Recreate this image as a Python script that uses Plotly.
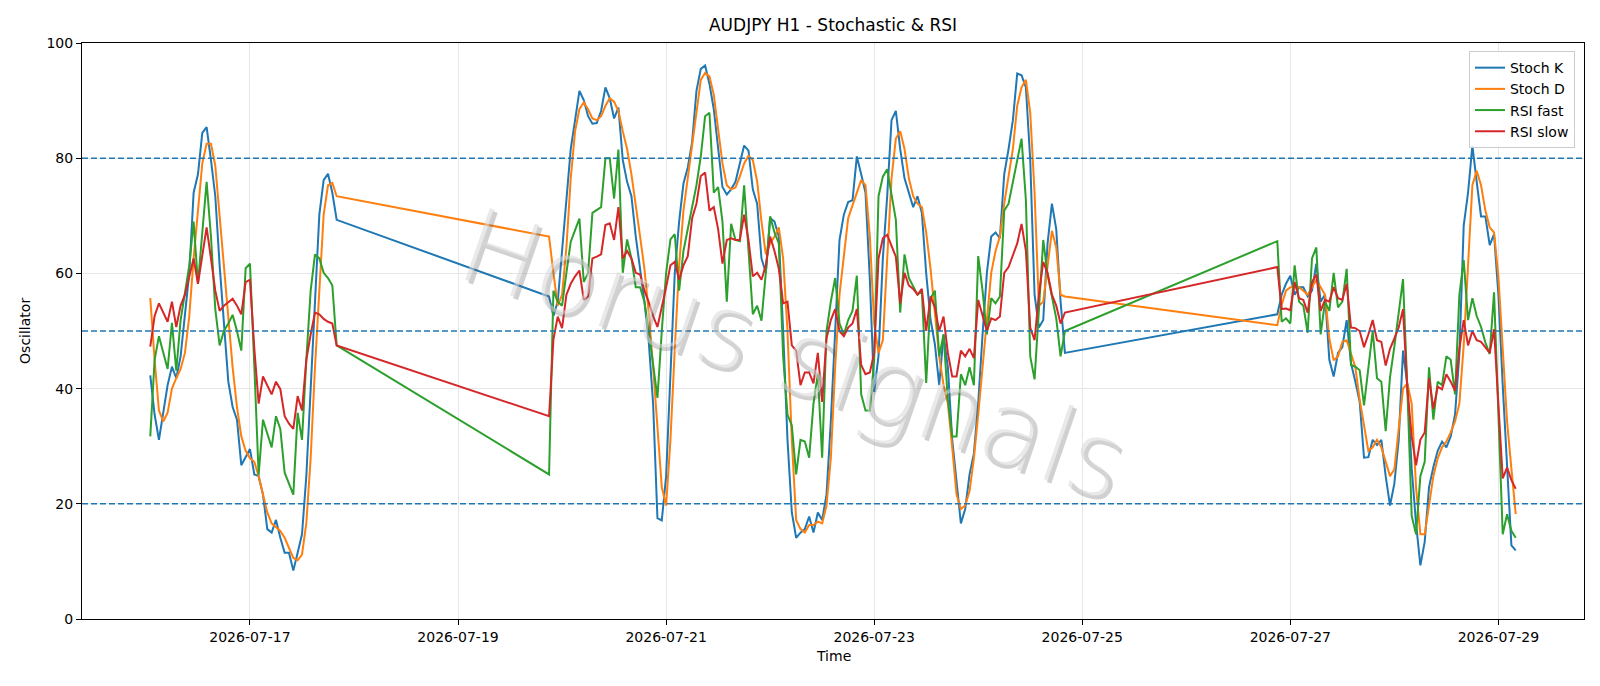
import pandas as pd
import plotly.graph_objects as go

# ---- time axis: three trading blocks of hourly bars (weekend gaps) ----
block_starts = ["2026-07-16 01:00", "2026-07-19 21:00", "2026-07-26 21:00"]
block_lengths = [44, 120, 56]

# ---- Stoch K ----
stoch_k_1 = [42.3, 35.5, 31.1, 35.5, 40.6, 43.8, 41.8, 45.6, 52.6, 60.1, 74.0, 77.2, 84.4, 85.4, 79.7,
             73.4, 61.4, 51.3, 41.2, 36.8, 34.6, 26.7, 28.0, 29.5, 25.1, 24.8, 21.6, 15.6, 15.0, 17.2,
             14.1, 11.5, 11.5, 8.4, 11.5, 14.7, 24.8, 40.6, 56.3, 70.2, 76.2, 77.3, 74.0, 69.3]
stoch_k_2 = [56.0, 52.6, 55.1, 64.2, 72.7, 81.6, 86.6, 91.7, 90.1, 87.3, 86.0, 86.1, 88.2, 92.3, 90.4,
             86.9, 88.8, 79.7, 75.9, 73.4, 66.4, 60.8, 55.1, 48.1, 37.4, 17.5, 17.1, 24.8, 43.7, 60.1,
             69.0, 75.6, 78.4, 82.8, 91.7, 95.5, 96.1, 92.9, 88.5, 81.6, 75.0, 73.7,
             74.6, 75.9, 79.1, 82.2, 81.3, 74.6, 72.1, 62.6, 60.1, 69.6, 69.0, 66.4, 50.0, 31.1, 18.5,
             14.1, 15.0, 15.6, 17.8, 15.0, 18.5, 17.2, 21.6, 34.3, 50.0, 65.8, 70.2, 72.4, 72.7, 80.3,
             77.2, 74.0, 58.9, 39.4, 45.7, 62.6, 73.4, 86.6, 88.2, 81.6, 76.5, 74.0, 71.5, 73.4,
             70.5, 60.0, 52.0, 47.7, 40.6, 49.4, 43.7, 31.1, 23.5, 16.6, 19.1, 25.1, 28.7, 37.5, 49.4,
             60.1, 66.4, 67.1, 66.1, 77.2, 81.6, 86.6, 94.7, 94.4, 92.3, 79.7, 56.3, 50.6, 51.9, 65.2,
             72.1, 67.7, 55.1, 46.2]
stoch_k_3 = [52.9, 56.3, 58.2, 59.6, 56.3, 57.6, 57.6, 56.0, 57.0, 61.7, 55.1, 56.3, 45.0, 42.1, 46.2,
             47.2, 51.9, 44.4, 41.2, 37.7, 28.0, 28.1, 31.1, 30.2, 31.1, 24.8, 19.7, 23.5, 31.1, 46.6,
             40.6, 26.1, 16.6, 9.3, 13.4, 22.9, 26.4, 29.2, 30.8, 29.8, 31.7, 35.5, 46.0, 68.3, 74.0,
             82.2, 75.9, 69.9, 69.9, 64.9, 66.8, 56.3, 40.6, 26.1, 12.8, 11.9]

# ---- Stoch D ----
stoch_d_1 = [55.7, 45.0, 36.2, 34.3, 35.8, 40.0, 41.8, 43.4, 46.2, 52.6, 62.6, 71.5, 79.1, 82.5, 82.5,
             78.7, 70.2, 61.4, 51.9, 43.7, 36.8, 31.7, 29.2, 27.9, 27.3, 24.8, 21.6, 18.5, 16.6, 15.9,
             15.3, 14.1, 12.5, 10.6, 10.2, 11.2, 16.6, 27.9, 43.7, 57.6, 70.2, 75.3, 75.7, 73.4]
stoch_d_2 = [66.4, 60.1, 54.4, 56.3, 64.5, 76.5, 84.7, 88.5, 89.7, 88.5, 86.9, 86.6, 87.3, 89.1, 90.4,
             89.8, 88.2, 84.7, 81.6, 77.2, 72.1, 66.4, 60.8, 53.2, 43.7, 33.0, 22.9, 19.7, 31.1, 46.9,
             61.4, 70.9, 76.5, 81.6, 87.9, 93.6, 94.8, 94.2, 91.0, 84.7, 79.1, 75.3,
             74.6, 74.9, 76.8, 79.1, 80.4, 79.7, 76.0, 69.0, 63.3, 65.2, 66.4, 68.0, 62.6, 50.0, 31.1,
             17.2, 15.6, 15.0, 16.3, 16.3, 16.9, 16.6, 19.7, 27.9, 43.7, 56.3, 63.3, 69.6, 71.8, 74.0,
             76.2, 75.3, 66.4, 51.3, 46.2, 48.4, 62.6, 76.5, 83.4, 84.7, 81.6, 76.5, 73.4, 72.1,
             71.5, 67.1, 60.8, 52.6, 45.6, 40.6, 37.4, 29.8, 21.6, 19.1, 19.7, 22.2, 27.9, 35.5, 43.7,
             51.9, 60.1, 63.9, 66.4, 72.1, 76.5, 81.6, 89.1, 92.3, 93.6, 87.9, 74.0, 54.4, 55.1, 61.4,
             67.4, 64.5, 56.3, 56.0]
stoch_d_3 = [51.0, 54.5, 57.0, 57.6, 57.6, 57.6, 57.0, 56.3, 57.6, 58.9, 57.6, 56.3, 48.7, 44.9, 45.6,
             48.1, 48.4, 46.2, 43.7, 38.1, 33.6, 29.2, 29.8, 31.1, 29.8, 27.3, 24.8, 26.0, 33.6, 40.0,
             40.9, 37.4, 22.9, 14.7, 14.7, 19.7, 24.8, 27.9, 29.8, 30.8, 32.4, 34.3, 37.4, 47.5, 61.4,
             75.3, 77.8, 75.3, 70.9, 68.0, 67.1, 59.5, 46.9, 34.3, 26.1, 18.2]

# ---- RSI fast ----
rsi_fast_1 = [31.7, 45.0, 49.1, 46.2, 43.4, 51.4, 43.1, 51.9, 56.3, 61.4, 69.0, 58.2, 67.1, 75.9, 66.4,
              53.8, 47.5, 50.0, 51.3, 52.8, 50.0, 46.6, 60.9, 61.7, 44.0, 25.0, 34.6, 32.4, 29.8, 35.2,
              33.0, 25.4, 23.5, 21.6, 35.8, 31.1, 45.0, 57.0, 63.3, 62.6, 60.1, 59.2, 57.9, 47.5]
rsi_fast_2 = [25.1, 57.0, 55.1, 54.4, 60.1, 65.5, 67.5, 69.5, 58.5, 60.1, 70.5, 71.0, 71.5, 80.0, 80.0,
              73.0, 81.5, 60.1, 65.9, 62.6, 57.6, 57.6, 55.1, 50.0, 44.0, 38.4, 50.0, 60.1, 65.9, 66.8,
              57.0, 63.9, 67.7, 71.5, 75.3, 80.3, 87.3, 87.9, 74.0, 75.0, 69.0, 55.1,
              68.6, 65.8, 65.6, 75.3, 63.9, 52.9, 54.4, 51.8, 60.1, 69.9, 67.1, 65.2, 45.6, 35.5, 33.6,
              25.1, 31.1, 30.8, 28.0, 37.4, 42.5, 28.0, 50.0, 55.1, 59.2, 51.3, 49.4, 51.9, 53.5, 59.6,
              39.0, 36.2, 36.2, 45.0, 73.4, 76.8, 78.1, 73.4, 69.3, 53.2, 63.3, 59.2, 57.6, 56.3,
              56.9, 41.0, 55.7, 57.0, 45.6, 49.4, 38.1, 31.7, 31.7, 42.5, 40.6, 43.7, 40.6, 63.0, 57.0,
              49.4, 55.7, 54.8, 56.0, 70.9, 72.1, 75.9, 79.7, 83.4, 72.7, 45.6, 41.6, 53.8, 65.8, 59.8,
              56.0, 52.2, 45.6, 50.0]
rsi_fast_3 = [65.6, 51.6, 52.2, 51.3, 61.4, 55.1, 54.4, 49.7, 62.6, 64.5, 49.4, 55.1, 53.5, 60.1, 54.1,
              55.1, 60.8, 44.1, 43.8, 43.2, 37.1, 43.2, 50.0, 41.8, 41.2, 32.6, 42.0, 47.3, 52.9, 59.0,
              40.0, 17.9, 14.7, 24.8, 27.3, 43.7, 34.6, 41.2, 40.6, 45.6, 45.0, 39.0, 56.3, 62.3, 51.9,
              55.7, 52.6, 50.7, 48.0, 46.0, 56.7, 37.0, 14.7, 18.2, 15.3, 14.1]

# ---- RSI slow ----
rsi_slow_1 = [47.3, 52.6, 54.8, 53.3, 51.6, 55.1, 50.7, 54.4, 56.3, 59.5, 62.6, 58.2, 63.3, 68.0, 62.6,
              57.0, 53.5, 54.4, 55.0, 55.6, 54.4, 52.9, 58.5, 58.9, 47.0, 37.4, 42.1, 40.6, 39.0, 41.2,
              39.9, 35.2, 33.9, 33.0, 38.7, 36.2, 45.0, 49.4, 53.2, 52.9, 52.1, 51.6, 51.3, 47.5]
rsi_slow_2 = [35.2, 48.5, 52.5, 50.5, 56.3, 58.2, 59.5, 60.5, 55.4, 56.0, 62.6, 62.9, 63.3, 68.4, 68.7,
              65.8, 71.5, 62.6, 63.9, 62.6, 60.1, 59.8, 57.0, 55.0, 52.6, 50.7, 54.0, 57.6, 61.4, 62.0,
              58.9, 61.4, 63.0, 69.6, 72.1, 76.9, 77.5, 70.9, 71.5, 67.7, 61.7, 65.8,
              66.1, 65.8, 65.8, 70.2, 65.8, 59.5, 60.1, 58.9, 61.4, 66.4, 63.9, 60.8, 54.8, 55.1, 47.5,
              46.6, 40.6, 42.8, 42.8, 40.9, 46.2, 37.7, 48.7, 51.9, 53.8, 50.0, 49.1, 50.6, 51.3, 53.8,
              44.1, 42.5, 42.8, 46.2, 62.6, 66.1, 66.7, 64.8, 62.9, 54.8, 60.1, 57.9, 57.3, 56.3,
              57.3, 50.0, 56.0, 54.1, 50.0, 52.5, 46.2, 42.1, 42.1, 46.6, 45.6, 46.9, 45.3, 55.4, 52.6,
              50.0, 52.2, 51.9, 52.5, 60.1, 61.1, 63.3, 65.2, 68.6, 63.9, 50.6, 48.4, 56.3, 62.0, 60.1,
              56.3, 54.4, 51.3, 53.2]
rsi_slow_3 = [61.1, 53.8, 53.9, 53.6, 58.5, 55.7, 55.4, 53.2, 58.5, 59.8, 53.5, 55.4, 55.1, 57.6, 55.7,
              55.4, 58.2, 50.6, 50.5, 50.0, 47.2, 49.4, 51.9, 48.4, 48.1, 44.0, 46.9, 48.7, 50.6, 53.8,
              40.0, 31.7, 26.7, 31.1, 32.4, 41.8, 36.5, 40.3, 39.9, 42.5, 41.2, 39.6, 46.9, 51.9, 47.5,
              50.0, 48.4, 48.1, 47.2, 46.2, 50.3, 37.4, 24.4, 26.3, 24.1, 22.6]

levels = [20, 50, 80]
x_ticks = ["2026-07-17", "2026-07-19", "2026-07-21", "2026-07-23", "2026-07-25", "2026-07-27", "2026-07-29"]
y_ticks = [0, 20, 40, 60, 80, 100]

# ---- assemble ----
times = None
for start, n in zip(block_starts, block_lengths):
    rng = pd.date_range(start, periods=n, freq="h")
    times = rng if times is None else times.append(rng)

series = [
    ("Stoch K", stoch_k_1 + stoch_k_2 + stoch_k_3, "#1f77b4"),
    ("Stoch D", stoch_d_1 + stoch_d_2 + stoch_d_3, "#ff7f0e"),
    ("RSI fast", rsi_fast_1 + rsi_fast_2 + rsi_fast_3, "#2ca02c"),
    ("RSI slow", rsi_slow_1 + rsi_slow_2 + rsi_slow_3, "#d62728"),
]
for name, vals, _ in series:
    assert len(vals) == len(times), (name, len(vals), len(times))

FONT = "DejaVu Sans"
fig = go.Figure()
for name, vals, color in series:
    fig.add_trace(go.Scatter(x=times, y=vals, mode="lines", name=name,
                             line=dict(color=color, width=2)))

for lv in levels:
    fig.add_shape(type="line", xref="paper", x0=0, x1=1, yref="y", y0=lv, y1=lv,
                  line=dict(color="#1f77b4", width=1.4, dash="6px,3px"), layer="above")

# x range with 5% padding like the original
t0, t1 = times[0], times[-1]
pad = (t1 - t0) * 0.05
xr = [t0 - pad, t1 + pad]

axis_common = dict(showline=True, linecolor="black", linewidth=1, mirror=True,
                   ticks="outside", ticklen=5, tickwidth=1, tickcolor="black",
                   showgrid=True, gridcolor="#e6e6e6", gridwidth=1, zeroline=False,
                   tickfont=dict(family=FONT, size=14, color="black"))

fig.update_xaxes(range=xr, tickvals=pd.to_datetime(x_ticks), tickformat="%Y-%m-%d", **axis_common)
fig.update_yaxes(range=[0, 100], tickvals=y_ticks, **axis_common)

# watermark: thin gray text with a soft drop shadow
WM_FONT = "DejaVu Sans ExtraLight, DejaVu Sans Light, DejaVu Sans"
fig.add_annotation(text="Horus signals", xref="paper", yref="paper", x=0.474, y=0.458,
                   xshift=3, yshift=-3, showarrow=False, textangle=19,
                   font=dict(family=WM_FONT, size=104, color="rgba(100,100,100,0.30)", weight=200))
fig.add_annotation(text="Horus signals", xref="paper", yref="paper", x=0.474, y=0.458,
                   showarrow=False, textangle=19,
                   font=dict(family=WM_FONT, size=104, color="rgba(215,215,215,0.55)", weight=200))

fig.add_annotation(text="Time", xref="paper", yref="paper", x=0.5, y=-0.064,
                   showarrow=False, yanchor="middle", font=dict(family=FONT, size=14, color="black"))
fig.add_annotation(text="Oscillator", xref="paper", yref="paper", x=-0.038, y=0.5,
                   showarrow=False, textangle=-90, xanchor="center", yanchor="middle",
                   font=dict(family=FONT, size=14, color="black"))

fig.update_layout(
    width=1600, height=686,
    margin=dict(l=82, r=16, t=43, b=67),
    paper_bgcolor="white", plot_bgcolor="white",
    title=dict(text="AUDJPY H1 - Stochastic & RSI", x=0.5, xref="paper", y=1 - 25.5 / 686,
               yref="container", xanchor="center", yanchor="middle",
               font=dict(family=FONT, size=17, color="black")),
    legend=dict(x=0.994, y=0.986, xanchor="right", yanchor="top",
                bgcolor="rgba(255,255,255,0.85)", bordercolor="#cccccc", borderwidth=1,
                font=dict(family=FONT, size=14, color="black"), itemwidth=30,
                tracegroupgap=0),
    showlegend=True,
)

fig.write_html("out.html")
